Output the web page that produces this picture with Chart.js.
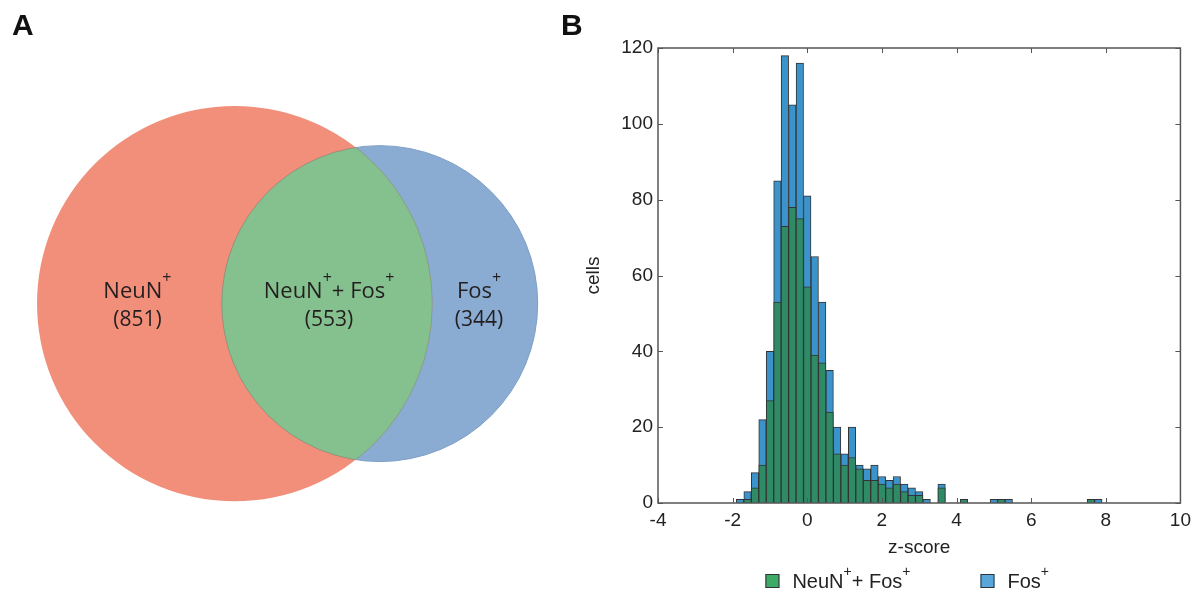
<!DOCTYPE html>
<html>
<head>
<meta charset="utf-8">
<script src="https://cdn.jsdelivr.net/npm/chart.js@4.4.1/dist/chart.umd.min.js"></script>
<style>
  html, body { margin: 0; padding: 0; background: #fff; }
  #wrap { position: relative; width: 1197px; height: 596px; overflow: hidden; }
  .panel { position: absolute; top: 0; height: 596px; }
  #panelA { left: 0; width: 560px; }
  #panelB { left: 560px; width: 637px; }
</style>
</head>
<body>
<div id="wrap">
  <div class="panel" id="panelA"><canvas id="venn"></canvas></div>
  <div class="panel" id="panelB"><canvas id="histo"></canvas></div>
</div>
<script>
// Panel A : Venn counts
const regionNames = ['NeuN⁺', 'NeuN⁺+ Fos⁺', 'Fos⁺'];
const regionCounts = [851, 553, 344];

// Panel B : histogram of z-scores (bins of 0.2)
const binCenters = [-1.8, -1.6, -1.4, -1.2, -1.0, -0.8, -0.6, -0.4, -0.2, 0.0,
  0.2, 0.4, 0.6, 0.8, 1.0, 1.2, 1.4, 1.6, 1.8, 2.0,
  2.2, 2.4, 2.6, 2.8, 3.0, 3.2, 3.4, 3.6, 3.8, 4.0,
  4.2, 4.4, 4.6, 4.8, 5.0, 5.2, 5.4, 5.6, 5.8, 6.0,
  6.2, 6.4, 6.6, 6.8, 7.0, 7.2, 7.4, 7.6, 7.8];
const neunFosCells = [0, 1, 4, 10, 27, 53, 73, 78, 75, 57,
  39, 37, 24, 13, 10, 12, 9, 6, 6, 5,
  4, 5, 3, 2, 2, 0, 0, 4, 0, 0,
  1, 0, 0, 0, 0, 1, 0, 0, 0, 0,
  0, 0, 0, 0, 0, 0, 0, 1, 0];
const fosCells = [1, 3, 8, 22, 40, 85, 118, 105, 116, 81,
  65, 53, 35, 20, 13, 20, 10, 9, 10, 7,
  6, 7, 5, 4, 3, 1, 0, 5, 0, 0,
  1, 0, 0, 0, 1, 1, 1, 0, 0, 0,
  0, 0, 0, 0, 0, 0, 0, 1, 1];
const histLabels = ['NeuN⁺+ Fos⁺', 'Fos⁺'];
const xTicksStep = 2;
const yTicksStep = 20;

const textColor = '#231F20';

// dessine un texte avec les "⁺" en exposant
function drawRich(ctx, text, cx, baseline, size, family, supSize, raise) {
  const parts = text.split('⁺');
  const pieces = [];
  parts.forEach((p, i) => {
    if (p) pieces.push({ t: p, sup: false });
    if (i < parts.length - 1) pieces.push({ t: '+', sup: true });
  });
  let total = 0;
  pieces.forEach(pc => {
    ctx.font = (pc.sup ? supSize : size) + 'px ' + family;
    pc.w = ctx.measureText(pc.t).width;
    total += pc.w;
  });
  let x = cx - total / 2;
  ctx.textAlign = 'left';
  ctx.textBaseline = 'alphabetic';
  pieces.forEach(pc => {
    ctx.font = (pc.sup ? supSize : size) + 'px ' + family;
    ctx.fillText(pc.t, x, pc.sup ? baseline - raise : baseline);
    x += pc.w;
  });
}

function panelLetter(letter, x) {
  return {
    id: 'letter' + letter,
    afterDraw(chart) {
      const ctx = chart.ctx;
      ctx.save();
      ctx.fillStyle = '#111';
      ctx.font = 'bold 30px "Liberation Sans", Arial, sans-serif';
      ctx.textAlign = 'left';
      ctx.textBaseline = 'alphabetic';
      ctx.fillText(letter, x, 35);
      ctx.restore();
    }
  };
}

// ---- Venn : cercles d'aire proportionnelle aux effectifs
const areaNeuN = regionCounts[0] + regionCounts[1];
const areaFos = regionCounts[1] + regionCounts[2];
const rNeuN = Math.sqrt(areaNeuN / Math.PI);
const rFos = Math.sqrt(areaFos / Math.PI);

function lensArea(d, r1, r2) {
  if (d >= r1 + r2) return 0;
  if (d <= Math.abs(r1 - r2)) return Math.PI * Math.min(r1, r2) ** 2;
  const a1 = r1 * r1 * Math.acos((d * d + r1 * r1 - r2 * r2) / (2 * d * r1));
  const a2 = r2 * r2 * Math.acos((d * d + r2 * r2 - r1 * r1) / (2 * d * r2));
  const k = 0.5 * Math.sqrt((-d + r1 + r2) * (d + r1 - r2) * (d - r1 + r2) * (d + r1 + r2));
  return a1 + a2 - k;
}
let lo = Math.abs(rNeuN - rFos), hi = rNeuN + rFos;
for (let i = 0; i < 60; i++) {
  const mid = (lo + hi) / 2;
  if (lensArea(mid, rNeuN, rFos) > regionCounts[1]) lo = mid; else hi = mid;
}
const dist = (lo + hi) / 2;

function unitsToPx(chart, r) {
  const xs = chart.scales.x;
  const v = Math.abs(xs.getPixelForValue(r) - xs.getPixelForValue(0));
  return isFinite(v) ? v : 0;
}

const vennOverlap = {
  id: 'vennOverlap',
  afterDatasetsDraw(chart) {
    const ctx = chart.ctx;
    const xs = chart.scales.x, ys = chart.scales.y;
    const ax = xs.getPixelForValue(0), ay = ys.getPixelForValue(0);
    const bx = xs.getPixelForValue(dist), by = ys.getPixelForValue(0);
    const ar = unitsToPx(chart, rNeuN), br = unitsToPx(chart, rFos);

    // intersection en vert
    ctx.save();
    ctx.beginPath();
    ctx.arc(ax, ay, ar, 0, Math.PI * 2);
    ctx.clip();
    ctx.beginPath();
    ctx.arc(bx, by, br, 0, Math.PI * 2);
    ctx.fillStyle = '#85C18F';
    ctx.fill();
    ctx.strokeStyle = 'rgba(100,120,110,0.45)';
    ctx.lineWidth = 1;
    ctx.stroke();
    ctx.restore();

    ctx.save();
    ctx.beginPath();
    ctx.arc(bx, by, br, 0, Math.PI * 2);
    ctx.clip();
    ctx.beginPath();
    ctx.arc(ax, ay, ar, 0, Math.PI * 2);
    ctx.strokeStyle = 'rgba(100,120,110,0.35)';
    ctx.lineWidth = 1;
    ctx.stroke();
    ctx.restore();

    // étiquettes
    const centers = [
      (-rNeuN + dist - rFos) / 2,
      (dist - rFos + rNeuN) / 2,
      (rNeuN + dist + rFos) / 2
    ];
    const nudge = [8, 2, -6];
    ctx.save();
    ctx.fillStyle = textColor;
    const fam = '"Open Sans", "Noto Sans", sans-serif';
    for (let i = 0; i < regionNames.length; i++) {
      const cx = xs.getPixelForValue(centers[i]) + nudge[i];
      drawRich(ctx, regionNames[i], cx, ay - 6, 22, fam, 16, 15);
      drawRich(ctx, '(' + regionCounts[i] + ')', cx, ay + 22, 21, fam, 16, 15);
    }
    ctx.restore();
  }
};

const vennChart = new Chart(document.getElementById('venn'), {
  type: 'bubble',
  data: {
    datasets: [
      {
        label: 'NeuN⁺',
        data: [{ x: 0, y: 0, r: 0 }],
        backgroundColor: '#F28F7A',
        borderColor: '#F28F7A',
        borderWidth: 0,
        clip: false
      },
      {
        label: 'Fos⁺',
        data: [{ x: dist, y: 0, r: 0 }],
        backgroundColor: '#8AACD3',
        borderColor: '#7D9DC5',
        borderWidth: 1,
        clip: false
      }
    ]
  },
  options: {
    responsive: true,
    maintainAspectRatio: false,
    animation: false,
    events: [],
    layout: { padding: 0, autoPadding: false },
    scales: {
      x: { type: 'linear', display: false, min: -25.1, max: 34.8 },
      y: { type: 'linear', display: false, min: -31.28, max: 32.48 }
    },
    plugins: { legend: { display: false }, tooltip: { enabled: false } }
  },
  plugins: [vennOverlap, panelLetter('A', 12)]
});
// rayon des bulles en pixels, d'après l'échelle
vennChart.data.datasets[0].data[0].r = unitsToPx(vennChart, rNeuN);
vennChart.data.datasets[1].data[0].r = unitsToPx(vennChart, rFos);
vennChart.update();

// ---- Histogramme
const histFont = '"Liberation Sans", Arial, sans-serif';
const legendSwatches = ['#3DAA67', '#58A6DA'];

const frameTicks = {
  id: 'frameTicks',
  afterDraw(chart) {
    const ctx = chart.ctx;
    const { left, right, top, bottom } = chart.chartArea;
    const xs = chart.scales.x, ys = chart.scales.y;
    ctx.save();
    ctx.strokeStyle = '#555';
    ctx.lineWidth = 1;
    ctx.beginPath();
    xs.ticks.forEach(t => {
      const p = Math.round(xs.getPixelForValue(t.value)) + 0.5;
      ctx.moveTo(p, bottom); ctx.lineTo(p, bottom - 5);
      ctx.moveTo(p, top); ctx.lineTo(p, top + 5);
    });
    ys.ticks.forEach(t => {
      const p = Math.round(ys.getPixelForValue(t.value)) + 0.5;
      ctx.moveTo(left, p); ctx.lineTo(left + 5, p);
      ctx.moveTo(right, p); ctx.lineTo(right - 5, p);
    });
    ctx.stroke();
    ctx.lineWidth = 1.5;
    ctx.strokeRect(left, top, right - left, bottom - top);
    ctx.restore();
  }
};

const bottomLegend = {
  id: 'bottomLegend',
  afterDraw(chart) {
    const ctx = chart.ctx;
    const { left, right } = chart.chartArea;
    const box = 14, gapText = 13, gapItem = 70;
    const baseline = 588;
    const widths = chart.data.datasets.map(ds => {
      const parts = ds.label.split('⁺');
      let w = 0;
      parts.forEach((p, i) => {
        ctx.font = '20px ' + histFont;
        w += ctx.measureText(p).width;
        if (i < parts.length - 1) { ctx.font = '14px ' + histFont; w += ctx.measureText('+').width; }
      });
      return w;
    });
    let total = 0;
    widths.forEach((w, i) => { total += box + gapText + w + (i < widths.length - 1 ? gapItem : 0); });
    let x = (left + right) / 2 - 12 - total / 2;
    ctx.save();
    chart.data.datasets.forEach((ds, i) => {
      ctx.fillStyle = legendSwatches[i];
      ctx.fillRect(x, baseline - box, box, box);
      ctx.strokeStyle = '#333';
      ctx.lineWidth = 1;
      ctx.strokeRect(x + 0.5, baseline - box + 0.5, box - 1, box - 1);
      ctx.fillStyle = '#222';
      drawRich(ctx, ds.label, x + box + gapText + widths[i] / 2, baseline, 20, histFont, 14, 12);
      x += box + gapText + widths[i] + gapItem;
    });
    ctx.restore();
  }
};

function toPoints(values) {
  return binCenters.map((c, i) => ({ x: c, y: values[i] === 0 ? null : values[i] }));
}

new Chart(document.getElementById('histo'), {
  type: 'bar',
  data: {
    datasets: [
      {
        label: histLabels[0],
        data: toPoints(neunFosCells),
        backgroundColor: '#2E8B66',
        borderColor: '#333',
        borderWidth: 1,
        barPercentage: 1,
        categoryPercentage: 1,
        grouped: false
      },
      {
        label: histLabels[1],
        data: toPoints(fosCells),
        backgroundColor: '#3B93CC',
        borderColor: '#333',
        borderWidth: 1,
        barPercentage: 1,
        categoryPercentage: 1,
        grouped: false
      }
    ]
  },
  options: {
    responsive: true,
    maintainAspectRatio: false,
    animation: false,
    events: [],
    layout: { padding: { top: 48, right: 14, bottom: 37, left: 0 } },
    scales: {
      x: {
        type: 'linear',
        min: -4,
        max: 10,
        offset: false,
        grid: { display: false, drawTicks: false },
        border: { display: false },
        ticks: { stepSize: xTicksStep, padding: 6, color: '#222', font: { family: histFont, size: 19 } },
        title: { display: true, text: 'z-score', color: '#222', font: { family: histFont, size: 19 }, padding: { top: 0, bottom: 0 } },
        afterFit: s => { s.height = 56; }
      },
      y: {
        min: 0,
        max: 120,
        grid: { display: false, drawTicks: false },
        border: { display: false },
        ticks: { stepSize: yTicksStep, padding: 5, color: '#222', font: { family: histFont, size: 19 } },
        title: { display: true, text: 'cells', color: '#222', font: { family: histFont, size: 19 }, padding: { top: 22, bottom: 0 } },
        afterFit: s => { s.width = 98; }
      }
    },
    plugins: { legend: { display: false }, tooltip: { enabled: false } }
  },
  plugins: [frameTicks, bottomLegend, panelLetter('B', 1)]
});
</script>
</body>
</html>
